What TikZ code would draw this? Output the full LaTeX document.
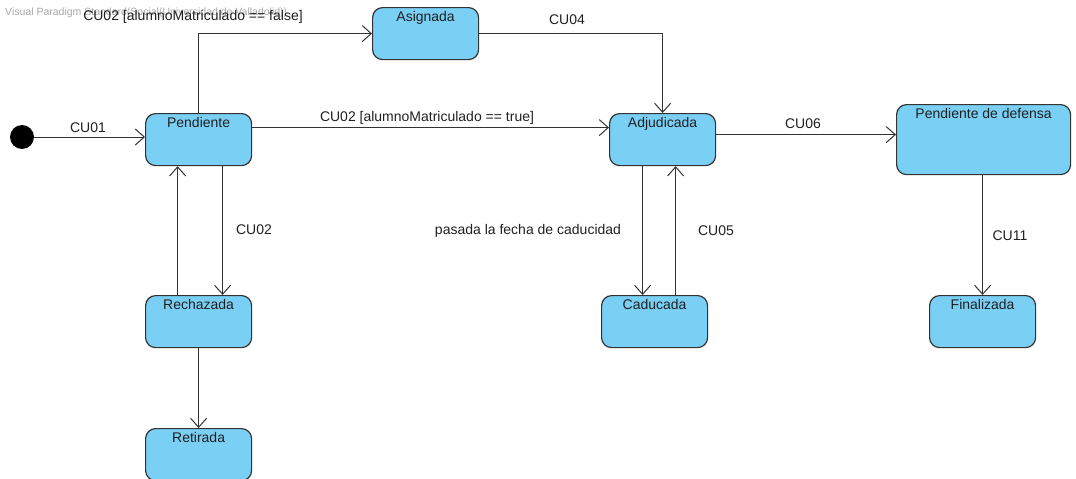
\documentclass[tikz,border=0pt]{standalone}
\usepackage{fontspec}
\setmainfont{Liberation Sans}
\usetikzlibrary{arrows.meta,calc}
\definecolor{stfill}{HTML}{7ACFF5}
\definecolor{stline}{HTML}{333333}
\definecolor{stink}{HTML}{202020}
\definecolor{stmark}{HTML}{A8A8A8}

\begin{document}
\begin{tikzpicture}[x=1pt, y=-1pt, font=\fontsize{14}{16}\selectfont, text=stink,
    state/.style={draw=stline, fill=stfill, line width=1.2pt, rounded corners=10pt,
      anchor=north west, inner xsep=2pt, inner ysep=4pt, text height=10pt,
      text depth=#1, minimum width=106pt},
    state/.default=34pt,
    initial/.style={circle, fill=black, draw=none, inner sep=0pt, minimum size=24pt},
    trans/.style={draw=stline, line width=1pt, -{Straight Barb[length=9pt, width=16pt, line width=1pt]}},
    lbl/.style={inner sep=1pt},
  ]
  \useasboundingbox (0,0) rectangle (1076,479);

  % tool watermark
  \node[anchor=west, text=stmark, font=\fontsize{10.5}{12}\selectfont, inner sep=0pt]
    (mark) at (5,13) {Visual Paradigm Standard(Social(Universidad de Valladolid))};

  % states
  \node[initial] (init) at (22,137) {};
  \node[state] (pend) at (145,113) {Pendiente};
  \node[state] (asig) at (372,7) {Asignada};
  \node[state] (adju) at (609,113) {Adjudicada};
  \node[state=52pt, minimum width=174pt] (pdef) at (896,104) {Pendiente de defensa};
  \node[state] (rech) at (145,295) {Rechazada};
  \node[state] (reti) at (145,428) {Retirada};
  \node[state] (cadu) at (601,295) {Caducada};
  \node[state] (fina) at (929,295) {Finalizada};

  % transitions
  \draw[trans] (init) -- (init -| pend.west);
  \draw[trans] (pend.north) |- (asig.west);
  \draw[trans] ([yshift=12pt]pend.east) -- ([yshift=12pt]pend.east -| adju.west);
  \draw[trans] (asig.east) -| (adju.north);
  \draw[trans] ([yshift=5pt]adju.east) -- ([yshift=5pt]adju.east -| pdef.west);
  \draw[trans] ([xshift=24pt]pend.south) -- ([xshift=24pt]pend.south |- rech.north);
  \draw[trans] ([xshift=-21pt]rech.north) -- ([xshift=-21pt]rech.north |- pend.south);
  \draw[trans] (rech.south) -- (reti.north);
  \draw[trans] ([xshift=-20pt]adju.south) -- ([xshift=-20pt]adju.south |- cadu.north);
  \draw[trans] ([xshift=13pt]adju.south |- cadu.north) -- ([xshift=13pt]adju.south);
  \draw[trans] (pdef.south -| fina.north) -- (fina.north);

  % guards and events
  \node[lbl] (l01) at (88,128) {CU01};
  \node[lbl] (l02f) at (193,17) {CU02 [alumnoMatriculado == false]};
  \node[lbl] (l02t) at (427,118) {CU02 [alumnoMatriculado == true]};
  \node[lbl] (l04) at (567,20) {CU04};
  \node[lbl] (l06) at (803,124) {CU06};
  \node[lbl] (l02) at (254,230) {CU02};
  \node[lbl] (lcad) at (528,231) {pasada la fecha de caducidad};
  \node[lbl] (l05) at (716,231) {CU05};
  \node[lbl] (l11) at (1010,236) {CU11};
\end{tikzpicture}
\end{document}
